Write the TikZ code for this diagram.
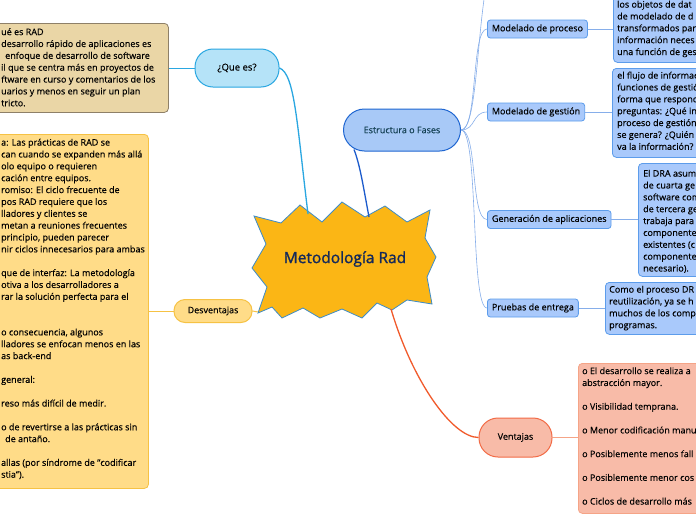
\documentclass[tikz,border=0pt]{standalone}
\usepackage{fontspec}
\setmainfont{Open Sans}[FakeBold=0.3]
\newfontfamily\titlefont{Open Sans}[FakeBold=1.3]
\definecolor{queFill}{HTML}{B5E3F8}
\definecolor{queLine}{HTML}{2AA7E1}
\definecolor{tanFill}{HTML}{EAD6A6}
\definecolor{tanLine}{HTML}{8E8068}
\definecolor{desFill}{HTML}{FFDC88}
\definecolor{desLine}{HTML}{F6C244}
\definecolor{starFill}{HTML}{FBB615}
\definecolor{starLine}{HTML}{3D8CC8}
\definecolor{estFill}{HTML}{A8C9F7}
\definecolor{estLine}{HTML}{1F66D1}
\definecolor{estText}{HTML}{123F52}
\definecolor{estConn}{HTML}{1C5BCC}
\definecolor{subFill}{HTML}{A9C9FB}
\definecolor{subLine}{HTML}{5C9CEB}
\definecolor{subConn}{HTML}{86AEEA}
\definecolor{venFill}{HTML}{F8BBA8}
\definecolor{venLine}{HTML}{F26B46}
\definecolor{venConn}{HTML}{F15A2B}
\definecolor{venBoxLine}{HTML}{F5A487}
\definecolor{titleText}{HTML}{14295A}
\tikzset{
  every node/.style={font=\fontsize{9}{11.86}\selectfont, text=black},
  pill/.style={draw, line width=1pt, rounded corners=#1, inner sep=0pt},
  subnode/.style={draw=subLine, fill=subFill, line width=0.8pt, rounded corners=3pt,
    inner xsep=4.5pt, inner ysep=0pt, minimum height=18pt, anchor=west},
  tbox/.style={line width=0.8pt, rounded corners=4pt, anchor=north west, inner sep=0pt},
  btext/.style={anchor=north west, inner sep=0pt, align=left},
  subconn/.style={draw=subConn, line width=0.6pt},
}
\begin{document}
\begin{tikzpicture}[x=1pt,y=-1pt]
\useasboundingbox (0,0) rectangle (696,520);
\fill[white] (0,0) rectangle (696,520);

% ---------- left: Que es ----------
\node[tbox, draw=tanLine, fill=tanFill, minimum width=190pt, minimum height=89pt] (tanbox) at (-22,23) {};
\node[btext] (tantext) at (1,26.6) {\strut ué es RAD\\
desarrollo rápido de aplicaciones es\\
\hspace*{4pt}enfoque de desarrollo de software\\
il que se centra más en proyectos de\\
ftware en curso y comentarios de los\\
uarios y menos en seguir un plan\\
tricto.};
\node[pill=18pt, draw=queLine, fill=queFill, minimum width=84pt, minimum height=38pt,
  font=\fontsize{9.5}{11}\selectfont] (quees) at (237,68) {¿Que es?};

% ---------- left: Desventajas ----------
\node[tbox, draw=desLine, fill=desFill, minimum width=170pt, minimum height=354pt] (desbox) at (-22,134) {};
\node[btext] (destext) at (1,137.1) {\strut a: Las prácticas de RAD se\\
can cuando se expanden más allá\\
olo equipo o requieren\\
cación entre equipos.\\
romiso: El ciclo frecuente de\\
pos RAD requiere que los\\
lladores y clientes se\\
metan a reuniones frecuentes\\
principio, pueden parecer\\
nir ciclos innecesarios para ambas\\
~\\
que de interfaz: La metodología\\
otiva a los desarrolladores a\\
rar la solución perfecta para el\\
~\\
~\\
o consecuencia, algunos\\
lladores se enfocan menos en las\\
as back-end\\
~\\
general:\\
~\\
reso más difícil de medir.\\
~\\
o de revertirse a las prácticas sin\\
\hspace*{4pt}de antaño.\\
~\\
allas (por síndrome de "codificar\\
stia").};
\node[pill=11pt, draw=desLine, fill=desFill, minimum width=78pt, minimum height=23pt] (des) at (213,311) {Desventajas};

% ---------- central star ----------
\draw[fill=starFill, draw=starLine, line width=0.8pt, line join=miter]
  (254,216) -- (281,223) -- (300,205) -- (322,222) -- (342,202) -- (365,217) -- (385,206)
  -- (407,222) -- (430,210) -- (425,238) -- (436,257) -- (427,277) -- (432,304) -- (407,300)
  -- (392,310) -- (377,303) -- (362,318) -- (342,309) -- (320,318) -- (303,308) -- (282,318)
  -- (272,307) -- (258,313) -- (267,287) -- (252,268) -- (266,244) -- cycle;
\node[font=\titlefont\fontsize{15.5}{18}\selectfont, text=titleText] (title) at (345,259) {Metodología Rad};
\coordinate (sQ) at (308,214);
\coordinate (sE) at (369,217);
\coordinate (sD) at (258,312);
\coordinate (sV) at (391,309);

% ---------- Estructura ----------
\node[pill=21pt, draw=estLine, fill=estFill, minimum width=117pt, minimum height=42pt, text=estText] (est) at (402,130) {Estructura o Fases};

\node[subnode] (s1) at (487,29) {Modelado de proceso};
\node[subnode] (s2) at (487,112) {Modelado de gestión};
\node[subnode] (s3) at (487,219.5) {Generación de aplicaciones};
\node[subnode] (s4) at (487,308) {Pruebas de entrega};
\coordinate (topend) at (492,-40);

\node[tbox, draw=subLine, fill=subFill, minimum width=150pt, minimum height=82pt] (b1) at (613,-20) {};
\node[btext] (t1) at (617,-0.9) {\strut los objetos de dat\\ de modelado de d\\ transformados par\\ información neces\\ una función de ges};
\node[tbox, draw=subLine, fill=subFill, minimum width=150pt, minimum height=89pt] (b2) at (612,68) {};
\node[btext] (t2) at (617,70.1) {\strut el flujo de informac\\ funciones de gestió\\ forma que respond\\ preguntas: ¿Qué in\\ proceso de gestión\\ se genera? ¿Quién\\ va la información?};
\node[tbox, draw=subLine, fill=subFill, minimum width=120pt, minimum height=113pt] (b3) at (638,163) {};
\node[btext] (t3) at (643,168.1) {\strut El DRA asume\\ de cuarta ge\\ software com\\ de tercera ge\\ trabaja para\\ componentes\\ existentes (c\\ componentes\\ necesario).};
\node[tbox, draw=subLine, fill=subFill, minimum width=150pt, minimum height=52pt] (b4) at (605,282) {};
\node[btext] (t4) at (609,284.1) {\strut Como el proceso DR\\ reutilización, ya se h\\ muchos de los comp\\ programas.};

% ---------- Ventajas ----------
\node[pill=19pt, draw=venLine, fill=venFill, minimum width=73pt, minimum height=39pt] (ven) at (515.5,437.5) {Ventajas};
\node[tbox, draw=venBoxLine, fill=venFill, minimum width=150pt, minimum height=150pt] (vbox) at (578,363) {};
\node[btext] (vtext) at (582,365.6) {\strut o El desarrollo se realiza a\\ abstracción mayor.\\ ~\\ o Visibilidad temprana.\\ ~\\ o Menor codificación manu\\ ~\\ o Posiblemente menos fall\\ ~\\ o Posiblemente menor cos\\ ~\\ o Ciclos de desarrollo más};

% ---------- connectors ----------
\draw[queLine, line width=1.3pt] (sQ) .. controls (297,125) and (295,74) .. (quees.east);
\draw[queLine, line width=0.9pt] (quees.west) -- (quees.west -| tanbox.east);
\draw[estConn, line width=1.3pt] (sE) .. controls (363,185) and (360,165) .. ([xshift=11pt,yshift=2pt]est.south west);
\draw[desLine, line width=1pt] (sD) -- (des.east);
\draw[desLine, line width=0.9pt] (des.west) -- (des.west -| desbox.east);
\draw[venConn, line width=1.3pt] (sV) .. controls (412,380) and (452,437.5) .. (ven.west);
\draw[venBoxLine, line width=0.9pt] (ven.east) -- (ven.east -| vbox.west);

\draw[subconn] (est.east) .. controls (479,130) and (476,10) .. (topend);
\draw[subconn] (est.east) .. controls (478,130) and (471,29) .. (s1.west);
\draw[subconn] (est.east) .. controls (476,130) and (472,112) .. (s2.west);
\draw[subconn] (est.east) .. controls (478,130) and (470,219.5) .. (s3.west);
\draw[subconn] (est.east) .. controls (479,130) and (470,308) .. (s4.west);
\draw[subconn] (s1.east) -- (s1.east -| b1.west);
\draw[subconn] (s2.east) -- (s2.east -| b2.west);
\draw[subconn] (s3.east) -- (s3.east -| b3.west);
\draw[subconn] (s4.east) -- (s4.east -| b4.west);
\end{tikzpicture}
\end{document}
